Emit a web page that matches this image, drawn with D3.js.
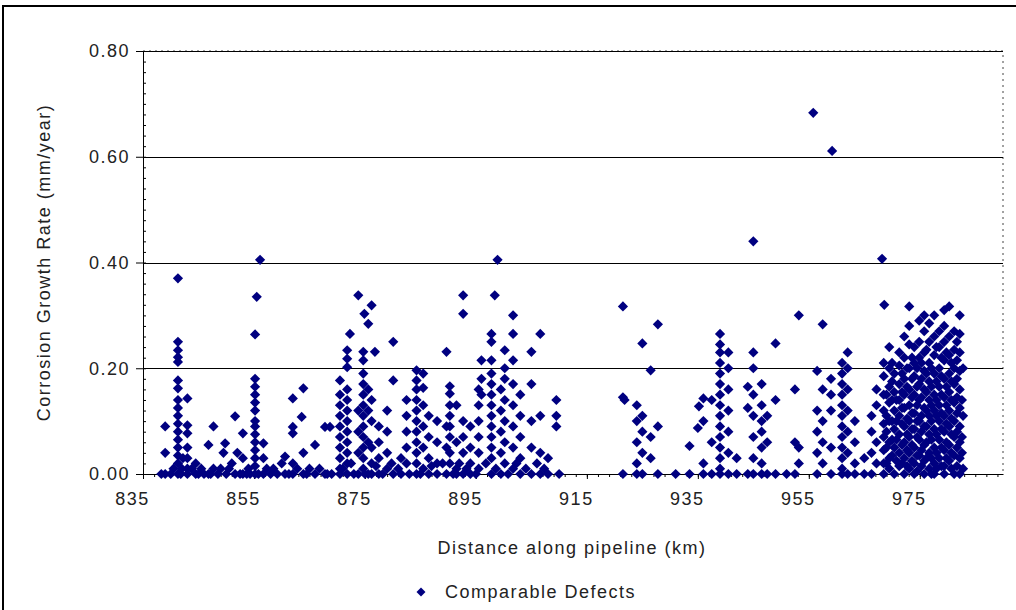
<!DOCTYPE html>
<html>
<head>
<meta charset="utf-8">
<script src="https://cdn.jsdelivr.net/npm/d3@7"></script>
<style>
  body { margin: 0; background: #fff; }
  svg { font-family: "Liberation Sans", Arial, sans-serif; }
  .lbl { font-size: 18px; letter-spacing: 1.5px; fill: #222; }
</style>
</head>
<body>
<svg id="chart" width="1016" height="610"></svg>
<script>
// axis ticks
const xTicks = [835, 855, 875, 895, 915, 935, 955, 975];
const yTicks = [0, 0.2, 0.4, 0.6, 0.8];

// defects: [distance km, growth rate mm/year]
const defects838to869 = [
  [839,0.09],[839,0.04],[839,0],[840,0],[840.5,0.01],[838.3,0],
  [841.3,0.37],[841.3,0.25],[841.3,0.234],[841.3,0.221],[841.3,0.212],[841.3,0.177],[841.3,0.162],
  [841.3,0.14],[841.3,0.125],[841.3,0.11],[841.3,0.095],[841.3,0.08],[841.3,0.065],[841.3,0.05],
  [841.3,0.035],[841.3,0.02],[841.3,0],[842,0.01],[842.2,0.03],[841.8,0],
  [843,0.143],[843,0.092],[843,0.077],[843,0.05],[843,0.03],[843,0.01],[843,0],[843.8,0.01],
  [844.5,0.02],[844.5,0],[845.5,0.01],[845,0],[846,0],
  [846.8,0.055],[846.8,0],[847.7,0.09],[847.7,0.01],[847.2,0],[848.5,0],[849,0.01],
  [849.5,0.04],[849.8,0.058],[850,0],[850.5,0.01],[851,0.02],[851.6,0.109],[851.6,0],[852,0.04],[852.5,0],
  [853,0.077],[853,0.03],[853,0],[853.7,0],[854,0.01],[854.3,0],
  [855.2,0.264],[855.5,0.335],[855.2,0.18],[855.2,0.165],[855.2,0.15],[855.2,0.135],[855.2,0.12],
  [855.2,0.1],[855.2,0.09],[855.2,0.075],[855.2,0.06],[855.2,0.045],[855.2,0.03],[855.2,0.015],[855.2,0],
  [856.1,0.405],[856.7,0.058],[856.7,0.03],[856.7,0],[855.8,0],[857.3,0.01],
  [858,0],[858.5,0.01],[859.2,0],[860,0.02],[860.6,0.033],[860.6,0],[861.3,0],
  [862,0.143],[862,0.089],[862,0.077],[862,0.02],[862,0],[862.8,0.01],
  [863.9,0.162],[863.6,0.108],[863.9,0.04],[863.9,0],[864.5,0],
  [865,0.01],[866,0.055],[866,0],[866.8,0.01],[867.8,0.089],[868.7,0.089],[867.8,0],[868.2,0],[869,0]
];

const defects870to910 = [
  [870.5,0.177],[870.5,0.15],[870.5,0.13],[870.5,0.11],[870.5,0.09],[870.5,0.07],[870.5,0.05],[870.5,0.03],[870.5,0.01],[870.5,0],
  [871.8,0.234],[871.8,0.218],[871.8,0.202],[871.8,0.16],[871.8,0.14],[871.8,0.12],[871.8,0.1],[871.8,0.08],
  [871.8,0.06],[871.8,0.04],[871.8,0.02],[871.8,0],[871,0.01],[872.5,0.02],[873,0],
  [872.3,0.265],[873.8,0.338],[873.8,0.12],[873.8,0.08],[873.8,0.04],[873.8,0],
  [874.7,0.231],[874.7,0.215],[874.7,0.19],[874.7,0.17],[874.7,0.15],[874.7,0.13],[874.7,0.11],[874.7,0.09],
  [874.7,0.07],[874.7,0.05],[874.7,0.03],[874.7,0.01],[875,0],
  [874.9,0.303],[875.6,0.284],[875.6,0.16],[875.6,0.12],[875.6,0.06],[875.6,0],
  [876.2,0.319],[876.8,0.231],[876.2,0.14],[876.2,0.1],[876.2,0.05],[876.2,0.02],[876.2,0],[877,0.015],
  [877.5,0.09],[877.5,0.06],[877.5,0.03],[877.5,0],[878.2,0],
  [879,0.12],[879,0.08],[879,0.04],[879,0.01],[879.8,0.02],[881,0.01],
  [880.1,0.25],[880.1,0.177],[880.1,0],[881.5,0.03],[881.5,0],
  [882.5,0.14],[882.5,0.11],[882.5,0.08],[882.5,0.05],[882.5,0.02],[883,0],
  [884.3,0.196],[884.3,0.177],[884.3,0.16],[884.3,0.14],[884.3,0.12],[884.3,0.1],[884.3,0.08],[884.3,0.06],
  [884.3,0.04],[884.3,0.02],[884.3,0],[885,0],
  [885.5,0.19],[885.5,0.163],[885.5,0.13],[885.5,0.09],[885.5,0.05],[885.5,0.01],
  [886.5,0.11],[886.5,0.07],[886.5,0.03],[886.5,0],[887,0.015],
  [888,0.1],[888,0.06],[888,0.02],[888,0],[889,0.02],
  [889.7,0.231],[889.7,0.09],[889.7,0.05],[889.7,0],
  [890.3,0.166],[890.3,0.152],[890.3,0.13],[890.3,0.11],[890.3,0.09],[890.3,0.07],[890.3,0.04],[890.3,0.02],[890.9,0],
  [891.5,0.13],[891.5,0.06],[891.5,0.01],[891.5,0],[892,0.02],
  [892.7,0.338],[892.7,0.303],[892.7,0.1],[892.7,0.07],[892.7,0.04],[892.7,0],[893.3,0.01],
  [894,0.09],[894,0.05],[894,0.02],[894,0],[895,0],
  [895.5,0.16],[895.5,0.13],[895.5,0.1],[895.5,0.07],[895.5,0.04],[895.5,0.01],
  [896,0.215],[896,0.18],[896,0.15],[896.8,0.02],
  [897.8,0.265],[897.8,0.25],[897.8,0.215],[897.8,0.19],[897.8,0.17],[897.8,0.15],[897.8,0.13],[897.8,0.11],
  [897.8,0.09],[897.8,0.07],[897.8,0.05],[897.8,0.03],[897.8,0],
  [898.4,0.338],[898.9,0.405],[898.6,0.01],
  [899.5,0.16],[899.5,0.12],[899.5,0.08],[899.5,0.04],[899.5,0],
  [900.2,0.234],[900.2,0.2],[900.2,0.18],[900.2,0.14],[900.2,0.1],[900.2,0.06],[900.2,0.02],[900.8,0],
  [901.7,0.3],[901.7,0.265],[901.7,0.215],[901.7,0.17],[901.7,0.13],[901.7,0.09],[901.7,0.05],[901.7,0.01],
  [902.3,0.02],[903,0.15],[903,0.11],[903,0.07],[903,0.03],[903,0],[904,0.01],
  [905,0.231],[905,0.17],[905,0.1],[905,0.05],[905,0],[906,0.02],
  [906.6,0.265],[906.6,0.11],[906.6,0.04],[906.6,0],[907.3,0.01],
  [908,0.03],[908,0],[909.5,0.14],[909.5,0.11],[909.5,0.09],[910,0]
];

const defects911to951 = [
  [921.5,0.317],[921.5,0.145],[921.8,0.14],[921.5,0],
  [924,0.13],[924,0.1],[924,0.06],[924,0.02],[924,0],
  [925,0.247],[925,0.11],[925,0.08],[925,0.04],[925,0],
  [926.5,0.196],[926.5,0.07],[926.5,0.03],
  [927.8,0.283],[927.8,0.09],[927.8,0],[931,0],
  [933.5,0.053],[933.5,0],[935,0.087],[935.2,0.128],
  [936,0.143],[936,0.1],[936,0.02],[936,0],
  [937.5,0.14],[937.5,0.06],[937.5,0],
  [939,0.265],[939,0.245],[939,0.23],[939,0.21],[939,0.19],[939,0.17],[939,0.15],[939,0.13],
  [939,0.11],[939,0.09],[939,0.07],[939,0.05],[939,0.03],[939,0.01],[939,0],
  [940.5,0.23],[940.5,0.2],[940.5,0.16],[940.5,0.12],[940.5,0.08],[940.5,0.04],[940.5,0],
  [942,0.03],[942,0],[944,0.165],[944,0.125],[944,0],
  [945,0.44],[945,0.23],[945,0.2],[945,0.15],[945,0.11],[945,0.07],[945,0.03],[945,0],
  [946.5,0.17],[946.5,0.13],[946.5,0.1],[946.5,0.08],[946.5,0.05],[946.5,0.02],[946.5,0],
  [947.5,0.11],[947.5,0.06],[947.5,0],
  [949,0.247],[949,0.14],[949,0],[951,0]
];

const defects952to983 = [
  [952.5,0.16],[952.5,0.06],[952.5,0],[953.2,0.3],[953.2,0.05],[953.2,0.02],
  [955.8,0.683],
  [956.5,0.195],[956.5,0.12],[956.5,0.08],[956.5,0.04],[956.5,0],
  [957.5,0.283],[957.5,0.16],[957.5,0.1],[957.5,0.06],[957.5,0.02],
  [959.2,0.611],
  [959,0.18],[959,0.15],[959,0.12],[959,0.05],[959,0],
  [961,0.21],[961,0.19],[961,0.17],[961,0.15],[961,0.13],[961,0.11],[961,0.09],[961,0.07],
  [961,0.05],[961,0.03],[961,0.01],[961,0],
  [962,0.23],[962,0.2],[962,0.16],[962,0.12],[962,0.08],[962,0.04],[962,0],
  [963.3,0.1],[963.3,0.06],[963.3,0.02],[963.3,0],
  [965,0],[965,0.03],
  [966.3,0.11],[966.3,0.08],[966.3,0.04],[966.3,0],
  [967.2,0.16],[967.2,0.13],[967.2,0.06],[967.2,0.02],
  [968.2,0.407],[968.6,0.32],[968.5,0.21],[968.5,0.185],[968.5,0.15],[968.5,0.12],[968.5,0.095],[968.5,0.07],
  [968.5,0.045],[968.5,0.02],[968.5,0],
  [969.5,0.24],[969.5,0.2],[969.5,0.165],[969.5,0.135],[969.5,0.1],[969.5,0.06],[969.5,0.03],[969.5,0.01],
  [970.4,0.19],[970.4,0.155],[970.4,0.12],[970.4,0.085],[970.4,0.05],[970.4,0],
  [971.3,0.23],[971.3,0.205],[971.3,0.17],[971.3,0.14],[971.3,0.11],[971.3,0.075],[971.3,0.04],[971.3,0.015],
  [972.2,0.26],[972.2,0.22],[972.2,0.18],[972.2,0.15],[972.2,0.125],[972.2,0.09],[972.2,0.06],[972.2,0.03],[972.2,0],
  [973.1,0.317],[973.1,0.28],[973.1,0.245],[973.1,0.2],[973.1,0.16],[973.1,0.13],[973.1,0.1],[973.1,0.07],
  [973.1,0.04],[973.1,0.01],
  [974,0.24],[974,0.21],[974,0.185],[974,0.15],[974,0.115],[974,0.085],[974,0.05],[974,0.02],[974,0],
  [974.9,0.29],[974.9,0.25],[974.9,0.22],[974.9,0.17],[974.9,0.14],[974.9,0.1],[974.9,0.065],[974.9,0.035],
  [975.8,0.3],[975.8,0.27],[975.8,0.23],[975.8,0.195],[975.8,0.16],[975.8,0.125],[975.8,0.09],[975.8,0.055],
  [975.8,0.025],[975.8,0],
  [976.7,0.285],[976.7,0.25],[976.7,0.21],[976.7,0.175],[976.7,0.14],[976.7,0.11],[976.7,0.075],[976.7,0.04],[976.7,0.01],
  [977.6,0.3],[977.6,0.26],[977.6,0.225],[977.6,0.19],[977.6,0.15],[977.6,0.12],[977.6,0.085],[977.6,0.05],
  [977.6,0.02],[977.6,0],
  [978.5,0.27],[978.5,0.24],[978.5,0.2],[978.5,0.165],[978.5,0.13],[978.5,0.1],[978.5,0.065],[978.5,0.03],
  [979.4,0.31],[979.4,0.28],[979.4,0.25],[979.4,0.215],[979.4,0.18],[979.4,0.145],[979.4,0.11],[979.4,0.08],
  [979.4,0.045],[979.4,0.015],[979.4,0],
  [980.3,0.317],[980.3,0.26],[980.3,0.225],[980.3,0.19],[980.3,0.155],[980.3,0.12],[980.3,0.09],[980.3,0.055],[980.3,0.025],
  [981.2,0.27],[981.2,0.235],[981.2,0.2],[981.2,0.17],[981.2,0.135],[981.2,0.1],[981.2,0.07],[981.2,0.035],[981.2,0],
  [982.2,0.3],[982.2,0.265],[982.2,0.23],[982.2,0.195],[982.2,0.16],[982.2,0.125],[982.2,0.09],[982.2,0.06],
  [982.2,0.03],[982.2,0],
  [982.8,0.2],[982.8,0.11],[982.8,0.01]
];

// the packed lower part of the last cluster
const defectsTailFill = [
  [969,0.15],[969,0.11],[969,0.08],[969,0.05],[969,0.02],
  [970,0.21],[970,0.175],[970,0.14],[970,0.1],[970,0.065],[970,0.035],
  [970.8,0.14],[970.8,0.1],[970.8,0.065],[970.8,0.025],
  [971.8,0.19],[971.8,0.155],[971.8,0.125],[971.8,0.095],[971.8,0.055],[971.8,0.02],
  [972.7,0.2],[972.7,0.165],[972.7,0.105],[972.7,0.075],[972.7,0.045],[972.7,0.015],
  [973.6,0.22],[973.6,0.18],[973.6,0.145],[973.6,0.115],[973.6,0.085],[973.6,0.055],[973.6,0.025],
  [974.5,0.2],[974.5,0.165],[974.5,0.13],[974.5,0.1],[974.5,0.07],[974.5,0.035],[974.5,0.005],
  [975.3,0.21],[975.3,0.18],[975.3,0.145],[975.3,0.11],[975.3,0.08],[975.3,0.045],[975.3,0.015],
  [976.2,0.235],[976.2,0.19],[976.2,0.155],[976.2,0.12],[976.2,0.09],[976.2,0.06],[976.2,0.03],
  [977.1,0.2],[977.1,0.165],[977.1,0.13],[977.1,0.1],[977.1,0.065],[977.1,0.03],[977.1,0],
  [978,0.24],[978,0.175],[978,0.14],[978,0.11],[978,0.075],[978,0.04],[978,0.01],
  [978.9,0.22],[978.9,0.185],[978.9,0.15],[978.9,0.115],[978.9,0.085],[978.9,0.05],[978.9,0.015],
  [979.8,0.23],[979.8,0.165],[979.8,0.13],[979.8,0.095],[979.8,0.06],[979.8,0.03],
  [980.7,0.21],[980.7,0.175],[980.7,0.14],[980.7,0.105],[980.7,0.075],[980.7,0.04],[980.7,0.01],
  [981.7,0.25],[981.7,0.215],[981.7,0.18],[981.7,0.145],[981.7,0.115],[981.7,0.08],[981.7,0.05],[981.7,0.015],
  [982.6,0.14],[982.6,0.07],[982.6,0.04]
];

const defects = defects838to869.concat(defects870to910, defects911to951, defects952to983, defectsTailFill);

const svg = d3.select("#chart");
const plot = { left: 143, right: 1003, top: 51, bottom: 474 };

// chart frame
svg.append("rect")
    .attr("x", 3).attr("y", 6)
    .attr("width", 1040).attr("height", 640)
    .attr("fill", "none")
    .attr("stroke", "#000")
    .attr("stroke-width", 2);

const x = d3.scaleLinear()
    .domain([835, 990])
    .range([plot.left, plot.right]);

const y = d3.scaleLinear()
    .domain([0, 0.8])
    .range([plot.bottom, plot.top]);

// plot area border (dotted)
svg.append("path")
    .attr("d", `M${plot.left},${plot.top}H${plot.right}V${plot.bottom}`)
    .attr("fill", "none")
    .attr("stroke", "#444")
    .attr("stroke-dasharray", "2,4");

// gridlines
svg.append("g")
    .selectAll("line")
    .data(yTicks.slice(1))
    .enter().append("line")
    .attr("x1", plot.left)
    .attr("x2", plot.right)
    .attr("y1", d => Math.round(y(d)) + 0.5)
    .attr("y2", d => Math.round(y(d)) + 0.5)
    .attr("stroke", "#000")
    .attr("stroke-width", 1);

// minor ticks
svg.append("g")
    .attr("transform", `translate(0,${plot.bottom})`)
    .call(d3.axisBottom(x).tickValues(d3.range(835, 991, 2)).tickSize(3).tickFormat(""))
    .call(g => g.select(".domain").remove());

svg.append("g")
    .attr("transform", `translate(${plot.left},0)`)
    .call(d3.axisRight(y).tickValues(d3.range(0, 0.801, 0.02)).tickSize(3).tickFormat(""))
    .call(g => g.select(".domain").remove());

// x axis
const xAxis = svg.append("g")
    .attr("transform", `translate(0,${plot.bottom})`)
    .call(d3.axisBottom(x).tickValues(xTicks).tickSize(5).tickSizeOuter(0).tickFormat(d3.format("d")));

xAxis.attr("font-size", null).attr("font-family", null);
xAxis.selectAll("text")
    .attr("class", "lbl")
    .attr("dx", -11)
    .attr("y", 31)
    .attr("dy", 0)
    .attr("fill", null);

// y axis
const yAxis = svg.append("g")
    .attr("transform", `translate(${plot.left},0)`)
    .call(d3.axisLeft(y).tickValues(yTicks).tickSize(7).tickSizeOuter(0).tickFormat(d3.format(".2f")));

yAxis.attr("font-size", null).attr("font-family", null);
yAxis.selectAll("text")
    .attr("class", "lbl")
    .attr("x", -13)
    .attr("fill", null);

// points
const diamond = d3.symbol().type(d3.symbolSquare).size(52);

svg.append("g")
    .selectAll("path")
    .data(defects)
    .enter().append("path")
    .attr("d", diamond)
    .attr("transform", d => `translate(${x(d[0])},${y(d[1])}) rotate(45)`)
    .attr("fill", "#000080");

// axis titles
svg.append("text")
    .attr("class", "lbl")
    .attr("x", 572)
    .attr("y", 554)
    .attr("text-anchor", "middle")
    .text("Distance along pipeline (km)");

svg.append("text")
    .attr("class", "lbl")
    .attr("transform", `translate(50,${(plot.top + plot.bottom) / 2}) rotate(-90)`)
    .attr("text-anchor", "middle")
    .text("Corrosion Growth Rate (mm/year)");

// legend
svg.append("path")
    .attr("d", d3.symbol().type(d3.symbolSquare).size(40))
    .attr("transform", "translate(421,592) rotate(45)")
    .attr("fill", "#000080");

svg.append("text")
    .attr("class", "lbl")
    .attr("x", 445)
    .attr("y", 598)
    .text("Comparable Defects");
</script>
</body>
</html>
